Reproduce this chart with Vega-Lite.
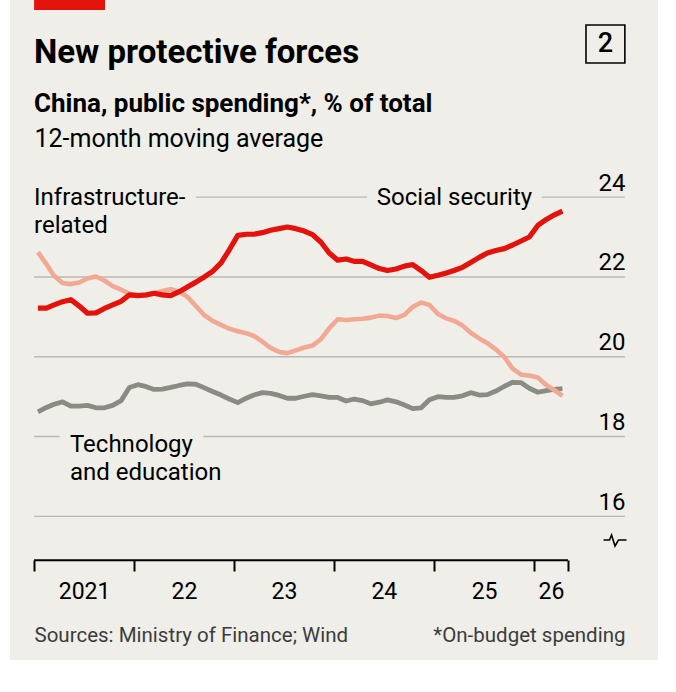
{
  "$schema": "https://vega.github.io/schema/vega-lite/v6.json",
  "width": 648,
  "height": 660,
  "autosize": {"type": "none"},
  "padding": {"left": 10, "top": 0, "right": 18, "bottom": 32},
  "background": "#ffffff",
  "view": {"fill": "#EFEEE9", "stroke": null},
  "config": {"font": "Roboto"},
  "title": {
    "text": "New protective forces",
    "subtitle": "China, public spending*, % of total",
    "orient": "top",
    "anchor": "start",
    "frame": "group",
    "dx": 24,
    "offset": -117,
    "font": "Roboto",
    "fontSize": 33,
    "fontWeight": "bold",
    "color": "#000000",
    "subtitleFont": "Roboto",
    "subtitleFontSize": 26,
    "subtitleFontWeight": "bold",
    "subtitleColor": "#000000",
    "subtitlePadding": 21
  },
  "datasets": {
    "spending": [
      {"month": "2021-01-15", "social": 21.22, "infra": 22.62, "tech": 18.62},
      {"month": "2021-02-15", "social": 21.22, "infra": 22.32, "tech": 18.73},
      {"month": "2021-03-15", "social": 21.30, "infra": 22.03, "tech": 18.81},
      {"month": "2021-04-15", "social": 21.38, "infra": 21.85, "tech": 18.87},
      {"month": "2021-05-15", "social": 21.43, "infra": 21.82, "tech": 18.76},
      {"month": "2021-06-15", "social": 21.27, "infra": 21.86, "tech": 18.76},
      {"month": "2021-07-15", "social": 21.09, "infra": 21.96, "tech": 18.78},
      {"month": "2021-08-15", "social": 21.10, "infra": 22.01, "tech": 18.72},
      {"month": "2021-09-15", "social": 21.21, "infra": 21.91, "tech": 18.72},
      {"month": "2021-10-15", "social": 21.30, "infra": 21.77, "tech": 18.78},
      {"month": "2021-11-15", "social": 21.39, "infra": 21.68, "tech": 18.90},
      {"month": "2021-12-15", "social": 21.55, "infra": 21.58, "tech": 19.23},
      {"month": "2022-01-15", "social": 21.53, "infra": 21.54, "tech": 19.30},
      {"month": "2022-02-15", "social": 21.55, "infra": 21.54, "tech": 19.25},
      {"month": "2022-03-15", "social": 21.59, "infra": 21.59, "tech": 19.18},
      {"month": "2022-04-15", "social": 21.55, "infra": 21.65, "tech": 19.19},
      {"month": "2022-05-15", "social": 21.53, "infra": 21.69, "tech": 19.23},
      {"month": "2022-06-15", "social": 21.63, "infra": 21.63, "tech": 19.28},
      {"month": "2022-07-15", "social": 21.75, "infra": 21.50, "tech": 19.32},
      {"month": "2022-08-15", "social": 21.87, "infra": 21.27, "tech": 19.31},
      {"month": "2022-09-15", "social": 22.00, "infra": 21.04, "tech": 19.22},
      {"month": "2022-10-15", "social": 22.14, "infra": 20.90, "tech": 19.13},
      {"month": "2022-11-15", "social": 22.35, "infra": 20.80, "tech": 19.04},
      {"month": "2022-12-15", "social": 22.68, "infra": 20.70, "tech": 18.94},
      {"month": "2023-01-15", "social": 23.04, "infra": 20.64, "tech": 18.85},
      {"month": "2023-02-15", "social": 23.07, "infra": 20.59, "tech": 18.96},
      {"month": "2023-03-15", "social": 23.07, "infra": 20.52, "tech": 19.04},
      {"month": "2023-04-15", "social": 23.11, "infra": 20.38, "tech": 19.10},
      {"month": "2023-05-15", "social": 23.17, "infra": 20.22, "tech": 19.08},
      {"month": "2023-06-15", "social": 23.21, "infra": 20.12, "tech": 19.03},
      {"month": "2023-07-15", "social": 23.25, "infra": 20.09, "tech": 18.96},
      {"month": "2023-08-15", "social": 23.21, "infra": 20.16, "tech": 18.96},
      {"month": "2023-09-15", "social": 23.15, "infra": 20.23, "tech": 19.01},
      {"month": "2023-10-15", "social": 23.06, "infra": 20.28, "tech": 19.05},
      {"month": "2023-11-15", "social": 22.87, "infra": 20.44, "tech": 19.02},
      {"month": "2023-12-15", "social": 22.60, "infra": 20.71, "tech": 18.98},
      {"month": "2024-01-15", "social": 22.42, "infra": 20.94, "tech": 18.98},
      {"month": "2024-02-15", "social": 22.45, "infra": 20.92, "tech": 18.89},
      {"month": "2024-03-15", "social": 22.39, "infra": 20.94, "tech": 18.94},
      {"month": "2024-04-15", "social": 22.39, "infra": 20.95, "tech": 18.90},
      {"month": "2024-05-15", "social": 22.30, "infra": 20.98, "tech": 18.82},
      {"month": "2024-06-15", "social": 22.21, "infra": 21.03, "tech": 18.86},
      {"month": "2024-07-15", "social": 22.16, "infra": 21.02, "tech": 18.92},
      {"month": "2024-08-15", "social": 22.20, "infra": 20.97, "tech": 18.87},
      {"month": "2024-09-15", "social": 22.27, "infra": 21.05, "tech": 18.79},
      {"month": "2024-10-15", "social": 22.31, "infra": 21.25, "tech": 18.70},
      {"month": "2024-11-15", "social": 22.16, "infra": 21.36, "tech": 18.72},
      {"month": "2024-12-15", "social": 21.99, "infra": 21.30, "tech": 18.92},
      {"month": "2025-01-15", "social": 22.04, "infra": 21.07, "tech": 19.00},
      {"month": "2025-02-15", "social": 22.10, "infra": 20.96, "tech": 18.98},
      {"month": "2025-03-15", "social": 22.16, "infra": 20.90, "tech": 18.98},
      {"month": "2025-04-15", "social": 22.24, "infra": 20.78, "tech": 19.02},
      {"month": "2025-05-15", "social": 22.36, "infra": 20.60, "tech": 19.10},
      {"month": "2025-06-15", "social": 22.49, "infra": 20.46, "tech": 19.04},
      {"month": "2025-07-15", "social": 22.60, "infra": 20.34, "tech": 19.05},
      {"month": "2025-08-15", "social": 22.66, "infra": 20.18, "tech": 19.14},
      {"month": "2025-09-15", "social": 22.71, "infra": 19.99, "tech": 19.26},
      {"month": "2025-10-15", "social": 22.80, "infra": 19.70, "tech": 19.36},
      {"month": "2025-11-15", "social": 22.90, "infra": 19.55, "tech": 19.35},
      {"month": "2025-12-15", "social": 23.00, "infra": 19.53, "tech": 19.21},
      {"month": "2026-01-15", "social": 23.29, "infra": 19.48, "tech": 19.11},
      {"month": "2026-02-15", "social": 23.44, "infra": 19.29, "tech": 19.15},
      {"month": "2026-03-15", "social": 23.55, "infra": 19.17, "tech": 19.18},
      {"month": "2026-04-15", "social": 23.65, "infra": 19.02, "tech": 19.20}
    ],
    "labels": [
      {"label": "Infrastructure-\nrelated", "d": "2021-01-01", "v": 23.8},
      {"label": "Social security", "d": "2024-06-06", "v": 23.8},
      {"label": "Technology\nand education", "d": "2021-05-12", "v": 17.61}
    ],
    "gridValues": [{"v": 16}, {"v": 18}, {"v": 20}, {"v": 22}, {"v": 24}],
    "single": [{}]
  },
  "resolve": {"axis": {"x": "independent", "y": "independent"}},
  "layer": [
    {
      "data": {"name": "gridValues"},
      "mark": {"type": "rule", "color": "#B9B9B4", "strokeWidth": 1.4},
      "encoding": {
        "x": {"datum": {"year": 2021, "month": 1, "date": 1, "utc": true}, "type": "temporal",
              "scale": {"type": "utc", "domain": [{"year": 2020, "month": 10, "date": 5, "utc": true}, {"year": 2027, "month": 3, "date": 30, "utc": true}]},
              "axis": null},
        "x2": {"datum": {"year": 2026, "month": 11, "date": 29, "utc": true}},
        "y": {"field": "v", "type": "quantitative",
              "scale": {"domain": [12.4, 28.94], "nice": false, "zero": false},
              "axis": {
                "orient": "right", "offset": -33, "values": [16, 18, 20, 22, 24],
                "grid": false, "ticks": false, "tickSize": 0, "domain": false,
                "labelAlign": "right", "labelBaseline": "alphabetic", "labelOffset": -7, "labelPadding": 0,
                "labelFont": "Roboto", "labelFontSize": 24, "labelColor": "#000000",
                "title": "*On-budget spending", "titleAngle": 0, "titleX": 0, "titleY": 641,
                "titleAlign": "right", "titleBaseline": "alphabetic", "titleFont": "Roboto",
                "titleFontSize": 20.5, "titleFontWeight": "normal", "titleColor": "#3C3C3C"
              }}
      }
    },
    {
      "data": {"name": "labels"},
      "mark": {"type": "text", "align": "left", "baseline": "alphabetic", "lineBreak": "\n", "lineHeight": 28,
               "font": "Roboto", "fontSize": 24, "fill": "#EFEEE9", "stroke": "#EFEEE9", "strokeWidth": 22, "strokeJoin": "round"},
      "encoding": {
        "x": {"field": "d", "type": "temporal",
              "scale": {"type": "utc", "domain": [{"year": 2020, "month": 10, "date": 5, "utc": true}, {"year": 2027, "month": 3, "date": 30, "utc": true}]},
              "axis": null},
        "y": {"field": "v", "type": "quantitative", "scale": {"domain": [12.4, 28.94], "nice": false, "zero": false}, "axis": null},
        "text": {"field": "label"}
      }
    },
    {
      "data": {"name": "spending"},
      "mark": {"type": "line", "color": "#8A8B83", "strokeWidth": 4.8, "strokeJoin": "round"},
      "encoding": {
        "x": {"field": "month", "type": "temporal",
              "scale": {"type": "utc", "domain": [{"year": 2020, "month": 10, "date": 5, "utc": true}, {"year": 2027, "month": 3, "date": 30, "utc": true}]},
              "axis": null},
        "y": {"field": "tech", "type": "quantitative", "scale": {"domain": [12.4, 28.94], "nice": false, "zero": false}, "axis": null}
      }
    },
    {
      "data": {"name": "spending"},
      "mark": {"type": "line", "color": "#F2A994", "strokeWidth": 4.6, "strokeJoin": "round"},
      "encoding": {
        "x": {"field": "month", "type": "temporal",
              "scale": {"type": "utc", "domain": [{"year": 2020, "month": 10, "date": 5, "utc": true}, {"year": 2027, "month": 3, "date": 30, "utc": true}]},
              "axis": {
                "orient": "bottom", "offset": -100,
                "values": [
                  {"year": 2021, "month": 1, "date": 1, "utc": true},
                  {"year": 2022, "month": 1, "date": 1, "utc": true},
                  {"year": 2023, "month": 1, "date": 1, "utc": true},
                  {"year": 2024, "month": 1, "date": 1, "utc": true},
                  {"year": 2025, "month": 1, "date": 1, "utc": true},
                  {"year": 2026, "month": 1, "date": 1, "utc": true},
                  {"year": 2026, "month": 5, "date": 5, "utc": true}
                ],
                "grid": false, "domain": false,
                "tickSize": 11, "tickWidth": 2, "tickColor": "#000000",
                "labelExpr": "utcmonth(datum.value) != 0 ? '' : (utcyear(datum.value) == 2021 ? '2021' : substring(toString(utcyear(datum.value)), 2, 4))",
                "labelOffset": {"condition": {"test": "utcyear(datum.value) == 2026", "value": 17}, "value": 50},
                "labelPadding": 9, "labelBaseline": "top", "labelFont": "Roboto", "labelFontSize": 23, "labelColor": "#000000",
                "labelOverlap": false, "labelFlush": false, "labelBound": false,
                "title": "Sources: Ministry of Finance; Wind", "titleX": 24, "titleY": 81,
                "titleAlign": "left", "titleAnchor": "start", "titleBaseline": "alphabetic", "titleFont": "Roboto",
                "titleFontSize": 20.5, "titleFontWeight": "normal", "titleColor": "#3C3C3C"
              }},
        "y": {"field": "infra", "type": "quantitative", "scale": {"domain": [12.4, 28.94], "nice": false, "zero": false}, "axis": null}
      }
    },
    {
      "data": {"name": "spending"},
      "mark": {"type": "line", "color": "#E3120B", "strokeWidth": 5.2, "strokeJoin": "round"},
      "encoding": {
        "x": {"field": "month", "type": "temporal",
              "scale": {"type": "utc", "domain": [{"year": 2020, "month": 10, "date": 5, "utc": true}, {"year": 2027, "month": 3, "date": 30, "utc": true}]},
              "axis": null},
        "y": {"field": "social", "type": "quantitative", "scale": {"domain": [12.4, 28.94], "nice": false, "zero": false},
              "axis": {
                "orient": "left", "labels": false, "ticks": false, "domain": false, "grid": false,
                "title": "12-month moving average", "titleAngle": 0, "titleX": 24, "titleY": 146,
                "titleAlign": "left", "titleBaseline": "alphabetic", "titleFont": "Roboto",
                "titleFontSize": 25, "titleFontWeight": "normal", "titleColor": "#000000"
              }}
      }
    },
    {
      "data": {"name": "labels"},
      "mark": {"type": "text", "align": "left", "baseline": "alphabetic", "lineBreak": "\n", "lineHeight": 28,
               "font": "Roboto", "fontSize": 24, "fill": "#000000"},
      "encoding": {
        "x": {"field": "d", "type": "temporal",
              "scale": {"type": "utc", "domain": [{"year": 2020, "month": 10, "date": 5, "utc": true}, {"year": 2027, "month": 3, "date": 30, "utc": true}]},
              "axis": null},
        "y": {"field": "v", "type": "quantitative", "scale": {"domain": [12.4, 28.94], "nice": false, "zero": false}, "axis": null},
        "text": {"field": "label"}
      }
    },
    {
      "data": {"name": "single"},
      "mark": {"type": "rule", "color": "#000000", "strokeWidth": 2},
      "encoding": {
        "x": {"datum": {"year": 2021, "month": 1, "date": 1, "utc": true}, "type": "temporal",
              "scale": {"type": "utc", "domain": [{"year": 2020, "month": 10, "date": 5, "utc": true}, {"year": 2027, "month": 3, "date": 30, "utc": true}]},
              "axis": null},
        "x2": {"datum": {"year": 2026, "month": 5, "date": 5, "utc": true}},
        "y": {"datum": 14.9, "type": "quantitative", "scale": {"domain": [12.4, 28.94], "nice": false, "zero": false}, "axis": null}
      }
    },
    {
      "data": {"name": "single"},
      "mark": {"type": "rect", "color": "#E3120B"},
      "encoding": {
        "x": {"datum": {"year": 2021, "month": 1, "date": 1, "utc": true}, "type": "temporal",
              "scale": {"type": "utc", "domain": [{"year": 2020, "month": 10, "date": 5, "utc": true}, {"year": 2027, "month": 3, "date": 30, "utc": true}]},
              "axis": null},
        "x2": {"datum": {"year": 2021, "month": 9, "date": 17, "utc": true}},
        "y": {"datum": 28.94, "type": "quantitative", "scale": {"domain": [12.4, 28.94], "nice": false, "zero": false}, "axis": null},
        "y2": {"datum": 28.69}
      }
    },
    {
      "data": {"name": "single"},
      "mark": {"type": "rect", "fill": "transparent", "stroke": "#000000", "strokeWidth": 1.6},
      "encoding": {
        "x": {"datum": {"year": 2026, "month": 7, "date": 10, "utc": true}, "type": "temporal",
              "scale": {"type": "utc", "domain": [{"year": 2020, "month": 10, "date": 5, "utc": true}, {"year": 2027, "month": 3, "date": 30, "utc": true}]},
              "axis": null},
        "x2": {"datum": {"year": 2026, "month": 11, "date": 29, "utc": true}},
        "y": {"datum": 28.313, "type": "quantitative", "scale": {"domain": [12.4, 28.94], "nice": false, "zero": false}, "axis": null},
        "y2": {"datum": 27.361}
      }
    },
    {
      "data": {"name": "single"},
      "mark": {"type": "text", "align": "center", "baseline": "middle", "font": "Roboto", "fontSize": 27, "fontWeight": 500, "fill": "#000000"},
      "encoding": {
        "x": {"datum": {"year": 2026, "month": 9, "date": 19, "utc": true}, "type": "temporal",
              "scale": {"type": "utc", "domain": [{"year": 2020, "month": 10, "date": 5, "utc": true}, {"year": 2027, "month": 3, "date": 30, "utc": true}]},
              "axis": null},
        "y": {"datum": 27.837, "type": "quantitative", "scale": {"domain": [12.4, 28.94], "nice": false, "zero": false}, "axis": null},
        "text": {"value": "2"}
      }
    },
    {
      "data": {"name": "single"},
      "mark": {"type": "point", "filled": false, "stroke": "#000000", "strokeWidth": 1.6, "opacity": 1, "size": 529,
               "shape": "M -1 0 L -0.48 0 L -0.3 -0.43 L 0 0.52 L 0.3 0 L 1 0"},
      "encoding": {
        "x": {"datum": {"year": 2026, "month": 10, "date": 24, "utc": true}, "type": "temporal",
              "scale": {"type": "utc", "domain": [{"year": 2020, "month": 10, "date": 5, "utc": true}, {"year": 2027, "month": 3, "date": 30, "utc": true}]},
              "axis": null},
        "y": {"datum": 15.407, "type": "quantitative", "scale": {"domain": [12.4, 28.94], "nice": false, "zero": false}, "axis": null}
      }
    }
  ]
}
